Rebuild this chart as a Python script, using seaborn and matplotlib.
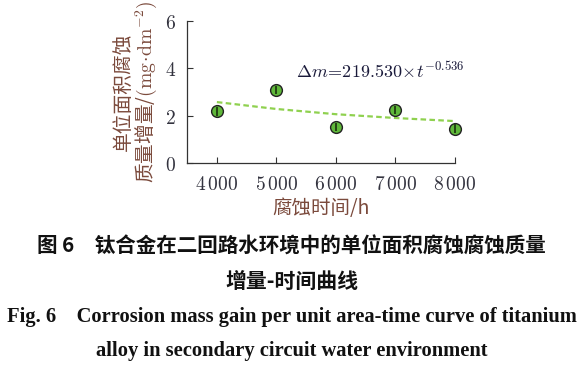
import numpy as np
import pandas as pd
import seaborn as sns
import matplotlib.pyplot as plt

sns.set_theme(style='ticks')
plt.rcParams['font.family'] = ['Noto Sans CJK SC', 'DejaVu Sans']
plt.rcParams['mathtext.fontset'] = 'cm'

# data
time_h = [4000, 5000, 6000, 7000, 8000]
mass_gain = [2.18, 3.07, 1.53, 2.24, 1.45]
fit_gain = [2.57, 2.28, 2.06, 1.90, 1.77]
x_ticks = [4000, 5000, 6000, 7000, 8000]
x_ticklabels = [r'$4\,000$', r'$5\,000$', r'$6\,000$', r'$7\,000$', r'$8\,000$']
y_ticks = [0, 2, 4, 6]

LABEL_COLOR = '#7b4a3c'
TICK_COLOR = '#33333f'

df = pd.DataFrame({'t': time_h, 'm': mass_gain, 'fit': fit_gain})

fig = plt.figure(figsize=(5.83, 3.69), dpi=100)
ax = fig.add_axes([0.321, 0.558, 0.459, 0.386])

sns.lineplot(data=df, x='t', y='fit', ax=ax, color='#8fd14f', lw=1.6,
             linestyle=(0, (2.5, 1.5)), zorder=2)
sns.scatterplot(data=df, x='t', y='m', ax=ax, color='#5fb83a', s=72,
                edgecolor='#222222', linewidth=1.0, zorder=3, clip_on=False)
# small vertical bar inside each marker
ax.errorbar(time_h, mass_gain, yerr=0.18, fmt='none', ecolor='#1f3a10',
            elinewidth=1.3, capsize=0, zorder=4, clip_on=False)

ax.set_xlim(3500, 8000)
ax.set_ylim(0, 6)
ax.set_xticks(x_ticks)
ax.set_xticklabels(x_ticklabels)
ax.set_yticks(y_ticks)
ax.set_yticklabels([rf'${v}$' for v in y_ticks])
ax.tick_params(direction='in', length=4, width=0.8, colors='#333333',
               labelsize=14, labelcolor=TICK_COLOR, pad=8)
sns.despine(ax=ax)
for s in ['left', 'bottom']:
    ax.spines[s].set_linewidth(0.9)
    ax.spines[s].set_color('#333333')

ax.set_xlabel('腐蚀时间/h', fontsize=14, color=LABEL_COLOR, labelpad=2)
ax.set_ylabel('单位面积腐蚀\n质量增量/$(\\mathrm{mg}\\!\\cdot\\!\\mathrm{dm}^{-2})$',
              fontsize=14.2, color=LABEL_COLOR, labelpad=4, linespacing=1.0)

ax.text(5330, 3.58, r'$\Delta m\!=\!219.530\!\times\!t^{-0.536}$',
        fontsize=13, color='#1a1a3a', va='baseline')

# caption
fig.text(0.5, 1 - 246 / 369, '图 6　钛合金在二回路水环境中的单位面积腐蚀腐蚀质量',
         ha='center', va='center', fontsize=14.8, fontweight='bold', color='#111111')
fig.text(0.5, 1 - 281 / 369, '增量-时间曲线',
         ha='center', va='center', fontsize=15, fontweight='bold', color='#111111')
fig.text(0.5, 1 - 317 / 369,
         'Fig. 6    Corrosion mass gain per unit area-time curve of titanium',
         ha='center', va='center', fontsize=14.8, fontweight='bold',
         family='Liberation Serif', color='#111111')
fig.text(0.5, 1 - 351 / 369, 'alloy in secondary circuit water environment',
         ha='center', va='center', fontsize=14.8, fontweight='bold',
         family='Liberation Serif', color='#111111')

fig.savefig('out.png', dpi=100)
